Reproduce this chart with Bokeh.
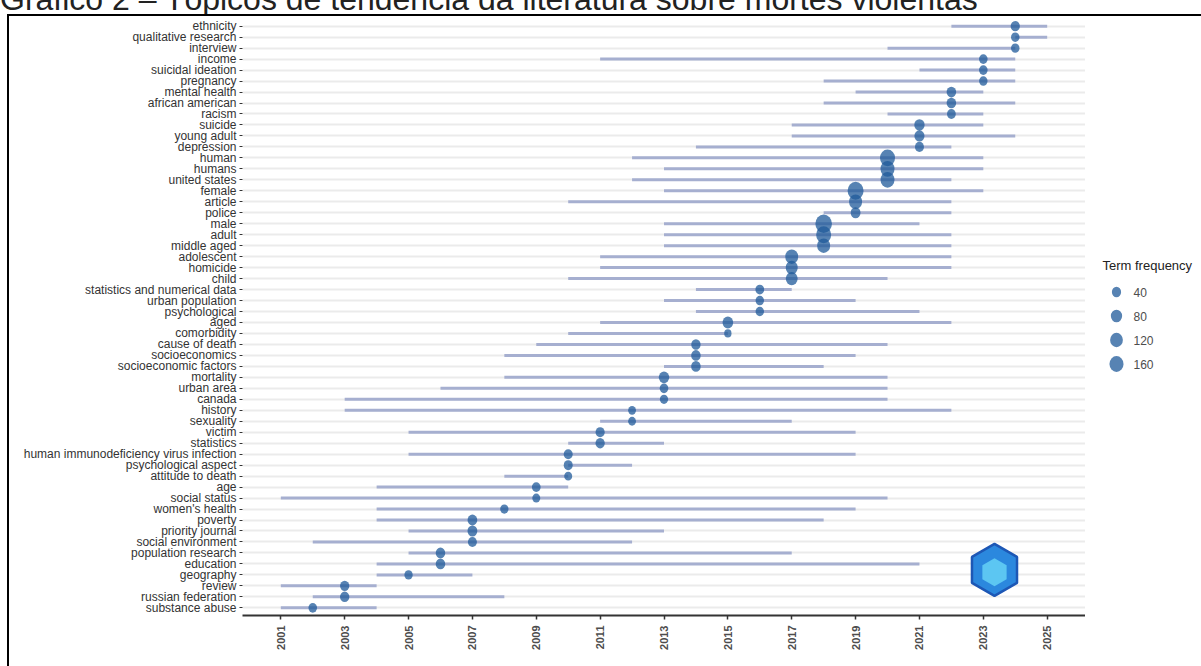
import math
from bokeh.plotting import figure
from bokeh.layouts import row, column
from bokeh.models import FactorRange, Range1d, FixedTicker, Div, Spacer
from bokeh.core.properties import value
from bokeh.embed import file_html
from bokeh.resources import INLINE

# ---------------- data ----------------
terms = [
    "ethnicity", "qualitative research", "interview", "income", "suicidal ideation",
    "pregnancy", "mental health", "african american", "racism", "suicide",
    "young adult", "depression", "human", "humans", "united states", "female",
    "article", "police", "male", "adult", "middle aged", "adolescent", "homicide",
    "child", "statistics and numerical data", "urban population", "psychological",
    "aged", "comorbidity", "cause of death", "socioeconomics", "socioeconomic factors",
    "mortality", "urban area", "canada", "history", "sexuality", "victim",
    "statistics", "human immunodeficiency virus infection", "psychological aspect",
    "attitude to death", "age", "social status", "women's health", "poverty",
    "priority journal", "social environment", "population research", "education",
    "geography", "review", "russian federation", "substance abuse",
]
year_q1 = [
    2022, 2024, 2020, 2011, 2021, 2018, 2019, 2018, 2020, 2017,
    2017, 2014, 2012, 2013, 2012, 2013, 2010, 2018, 2013, 2013,
    2013, 2011, 2011, 2010, 2014, 2013, 2014, 2011, 2010, 2009,
    2008, 2013, 2008, 2006, 2003, 2003, 2011, 2005, 2010, 2005,
    2010, 2008, 2004, 2001, 2004, 2004, 2005, 2002, 2005, 2004,
    2004, 2001, 2002, 2001,
]
year_median = [
    2024, 2024, 2024, 2023, 2023, 2023, 2022, 2022, 2022, 2021,
    2021, 2021, 2020, 2020, 2020, 2019, 2019, 2019, 2018, 2018,
    2018, 2017, 2017, 2017, 2016, 2016, 2016, 2015, 2015, 2014,
    2014, 2014, 2013, 2013, 2013, 2012, 2012, 2011, 2011, 2010,
    2010, 2010, 2009, 2009, 2008, 2007, 2007, 2007, 2006, 2006,
    2005, 2003, 2003, 2002,
]
year_q3 = [
    2025, 2025, 2024, 2024, 2024, 2024, 2023, 2024, 2023, 2023,
    2024, 2022, 2023, 2023, 2022, 2023, 2022, 2022, 2021, 2022,
    2022, 2022, 2022, 2020, 2017, 2019, 2021, 2022, 2015, 2020,
    2019, 2018, 2020, 2020, 2020, 2022, 2017, 2019, 2013, 2019,
    2012, 2010, 2010, 2020, 2019, 2018, 2013, 2012, 2017, 2021,
    2007, 2004, 2008, 2004,
]
term_freq = [
    40, 28, 28, 30, 30, 28, 45, 45, 32, 60,
    55, 36, 195, 160, 158, 230, 130, 50, 255, 195,
    128, 125, 100, 95, 32, 28, 28, 65, 14, 42,
    45, 45, 62, 30, 25, 20, 20, 38, 40, 35,
    35, 22, 32, 22, 26, 48, 50, 36, 45, 45,
    26, 40, 42, 30,
]
year_ticks = list(range(2001, 2026, 2))
legend_values = [40, 80, 120, 160]
legend_title = "Term frequency"
title_text = "Gráfico 2 – Tópicos de tendência da literatura sobre mortes violentas"
logo_year = 2023.35
logo_term = "education"

# ---------------- style ----------------
DOT = "#1f5a9a"
DOT_ALPHA = 0.75
SEG = "#a6afd0"
FONT = "Liberation Sans"


def dot_height(f):
    return 5 + 0.85 * math.sqrt(f)


def dot_width(f):
    return dot_height(f) / 1.12


PAGE_W, PAGE_H = 1201, 666
TITLE_H, RULE_H = 14, 2
LEFT_PAD, VRULE_W = 7, 2
W2 = 116
W1 = PAGE_W - LEFT_PAD - VRULE_W - W2
H = PAGE_H - TITLE_H - RULE_H
BORDER_L, BORDER_T, BORDER_B = 233, 2, 51

lo, hi = min(year_q1), max(year_q3)
pad = 0.05 * (hi - lo)

p = figure(
    width=W1, height=H,
    x_range=Range1d(lo - pad, hi + pad),
    y_range=FactorRange(factors=terms[::-1], range_padding=0.2,
                        range_padding_units="absolute"),
    output_backend="svg", toolbar_location=None,
    min_border_left=BORDER_L, min_border_right=0,
    min_border_top=BORDER_T, min_border_bottom=BORDER_B,
)
p.outline_line_color = None
p.background_fill_color = "white"
p.border_fill_color = "white"

p.xgrid.grid_line_color = None
p.ygrid.grid_line_color = "#ebebeb"
p.ygrid.grid_line_width = 2

p.segment(x0=year_q1, y0=terms, x1=year_q3, y1=terms,
          line_color=SEG, line_width=3)
p.ellipse(x=year_median, y=terms,
          width=[dot_width(f) for f in term_freq],
          height=[dot_height(f) for f in term_freq],
          width_units="screen", height_units="screen",
          fill_color=DOT, fill_alpha=DOT_ALPHA, line_color=None)

# bibliometrix logo (hexagon)
p.scatter(x=[logo_year], y=[(logo_term, -0.55)], marker="hex", size=52,
          angle=math.pi / 2, fill_color="#2b88de", line_color="#1d57b5",
          line_width=2.5)
p.scatter(x=[logo_year], y=[(logo_term, -0.75)], marker="hex", size=28,
          angle=math.pi / 2, fill_color="#5cc6f2", line_color=None)

xa = p.xaxis[0]
xa.ticker = FixedTicker(ticks=year_ticks)
xa.major_label_orientation = math.pi / 2
xa.major_label_text_font = FONT
xa.major_label_text_font_size = "11px"
xa.major_label_text_font_style = "bold"
xa.major_label_text_color = "#4d4d4d"
xa.axis_line_color = "#333333"
xa.axis_line_width = 2
xa.major_tick_line_color = "#333333"
xa.major_tick_line_width = 1.5
xa.major_tick_out = 4
xa.major_tick_in = 0
xa.minor_tick_line_color = None
xa.major_label_standoff = 6

ya = p.yaxis[0]
ya.axis_line_color = None
ya.major_tick_line_color = "#333333"
ya.major_tick_out = 3
ya.major_tick_in = 0
ya.major_label_text_font = FONT
ya.major_label_text_font_size = "12px"
ya.major_label_text_color = "#333333"
ya.major_label_standoff = 3

# ---------------- legend panel (data units = page pixels) ----------------
x_left = LEFT_PAD + VRULE_W + W1
frame_top = TITLE_H + RULE_H + BORDER_T
frame_bottom = TITLE_H + RULE_H + H - BORDER_B
p2 = figure(width=W2, height=H, x_range=Range1d(x_left, PAGE_W),
            y_range=Range1d(frame_bottom, frame_top),
            output_backend="svg", toolbar_location=None,
            x_axis_location=None, y_axis_location=None,
            min_border_left=0, min_border_right=0,
            min_border_top=BORDER_T, min_border_bottom=BORDER_B)
p2.outline_line_color = None
p2.grid.visible = False

p2.text(x=[x_left + 17], y=[265], text=[legend_title], text_font=value(FONT),
        text_font_size="13px", text_color="#222222", text_baseline="middle")
ly = [291.5 + 24 * i for i in range(len(legend_values))]
p2.ellipse(x=[x_left + 31] * len(legend_values), y=ly,
           width=[dot_width(v) for v in legend_values],
           height=[dot_height(v) for v in legend_values],
           width_units="screen", height_units="screen",
           fill_color=DOT, fill_alpha=DOT_ALPHA, line_color=None)
p2.text(x=[x_left + 48] * len(legend_values), y=ly, text=[str(v) for v in legend_values],
        text_font=value(FONT), text_font_size="12px", text_color="#4d4d4d",
        text_baseline="middle")

# ---------------- page frame and clipped caption ----------------
title_div = Div(
    text=('<div style="position:relative;top:-17px;left:0px;'
          "font-family:'Liberation Sans';font-size:32px;line-height:32px;"
          'color:#222222;white-space:nowrap;">' + title_text + "</div>"),
    width=PAGE_W, height=TITLE_H, margin=0,
    styles={"overflow": "hidden"},
)
hrule = Div(text="", width=PAGE_W - LEFT_PAD, height=RULE_H, margin=0,
            styles={"background-color": "black"})
vrule = Div(text="", width=VRULE_W, height=H, margin=0,
            styles={"background-color": "black"})

layout = column(
    title_div,
    row(Spacer(width=LEFT_PAD, height=RULE_H, margin=0), hrule, spacing=0),
    row(Spacer(width=LEFT_PAD, height=H, margin=0), vrule, p, p2, spacing=0),
    spacing=0,
)
open("out.html", "w").write(file_html(layout, INLINE))
